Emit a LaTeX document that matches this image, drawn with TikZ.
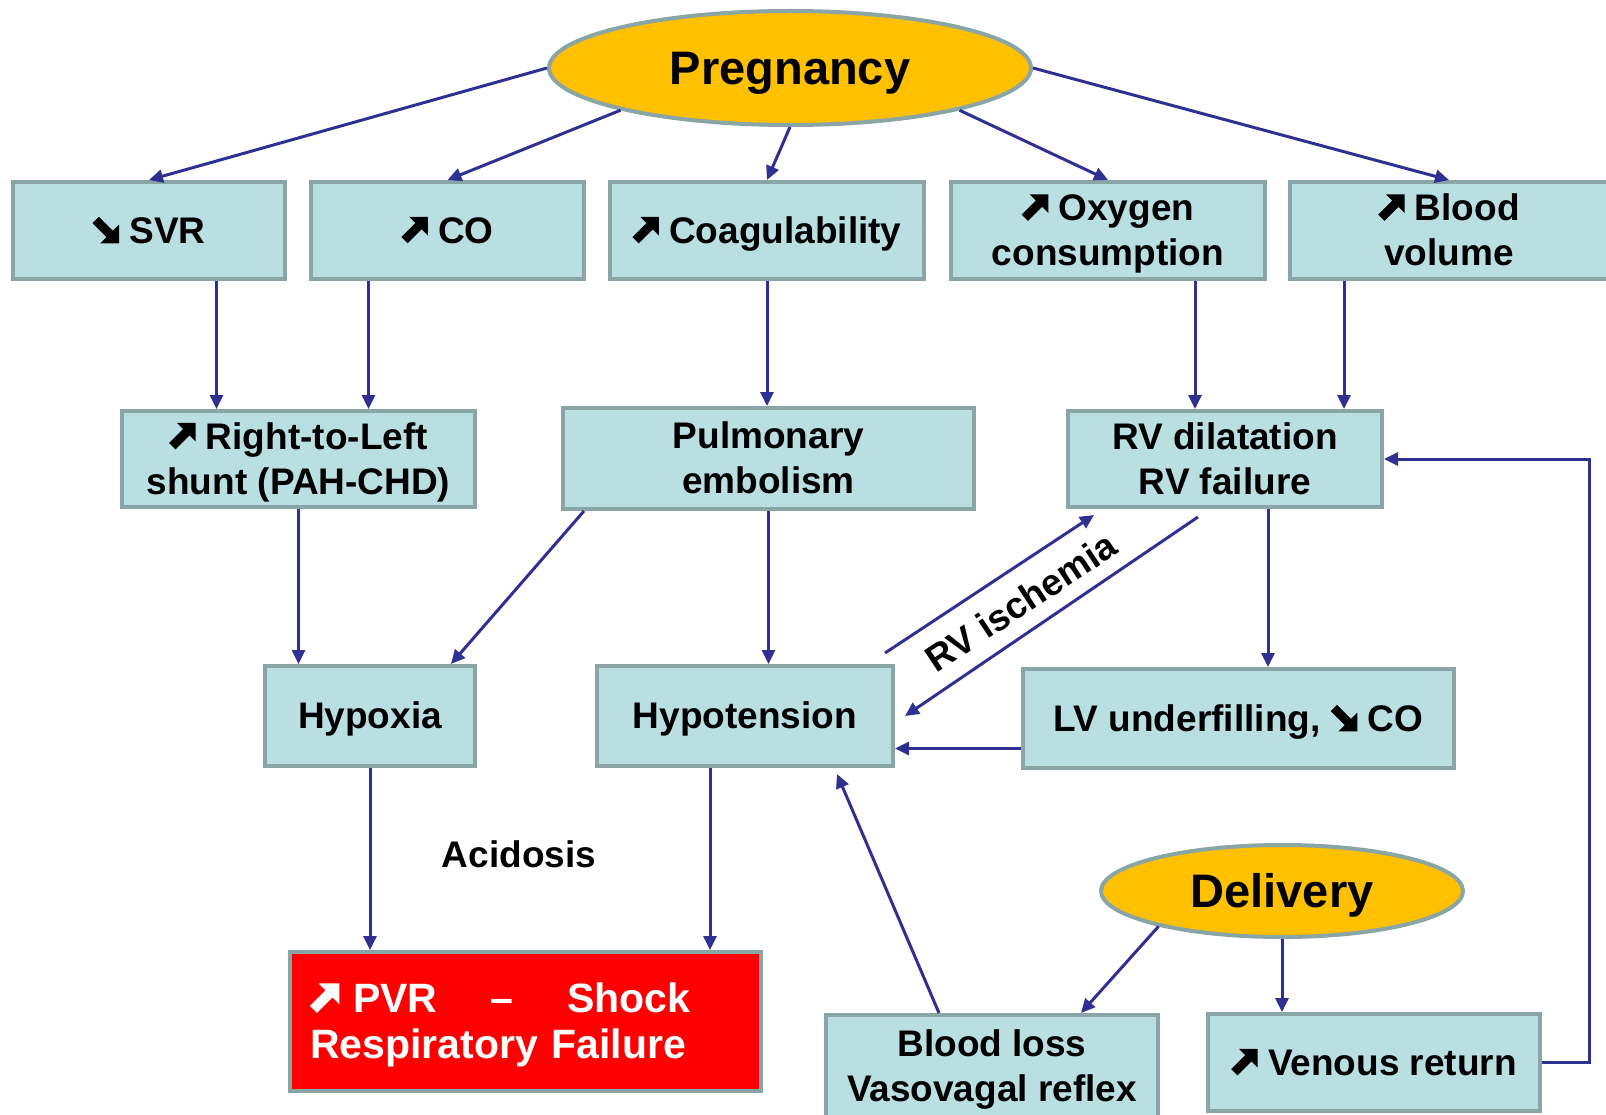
\documentclass[tikz,border=0pt]{standalone}
\usepackage{fontspec}
\setmainfont{Liberation Sans}
\usetikzlibrary{arrows.meta, shapes.geometric, positioning}
\definecolor{boxfill}{RGB}{185,223,227}
\definecolor{boxline}{RGB}{138,165,166}
\definecolor{navyline}{RGB}{46,49,146}
\definecolor{gold}{RGB}{255,192,0}
% heavy arrows drawn as glyphs, cap height tall
\newcommand{\uparr}{\tikz[x=0.0265em,y=0.0265em,baseline=0pt]
	\fill[fill=.] (0,6.4) -- (14.3,20.7) -- (8,27) -- (27,27) -- (27,8) -- (20.7,14.3) -- (6.4,0) -- cycle;}
\newcommand{\dnarr}{\tikz[x=0.0265em,y=0.0265em,baseline=0pt]
	\fill[fill=.] (0,20.6) -- (14.3,6.3) -- (8,0) -- (27,0) -- (27,19) -- (20.7,12.7) -- (6.4,27) -- cycle;}
\newcommand{\linestrut}{\rule[-0.212em]{0pt}{1.117em}}

\begin{document}
\begin{tikzpicture}[x=1pt,y=-1pt,
	box/.style={draw=boxline, line width=4pt, fill=boxfill, inner sep=0pt, align=center,
		font=\fontsize{37}{45}\selectfont\bfseries, execute at begin node=\linestrut},
	oval/.style={ellipse, draw=boxline, line width=4pt, fill=gold, inner sep=0pt,
		font=\fontsize{47}{56}\selectfont\bfseries, execute at begin node=\linestrut},
	arr/.style={draw=navyline, line width=3pt, -{Triangle[length=14pt,width=13pt]}}]
	\useasboundingbox (0,0) rectangle (1606,1115);
	% top
	\node[oval, minimum width=482pt, minimum height=114pt] (preg) at (790,68) {Pregnancy};
	% first row
	\node[box, minimum width=272pt, minimum height=97pt] (svr) at (149,230.5) {\dnarr{} SVR};
	\node[box, minimum width=273pt, minimum height=97pt] (co) at (447.5,230.5) {\uparr{} CO};
	\node[box, minimum width=314pt, minimum height=97pt] (coag) at (767,230.5) {\uparr{} Coagulability};
	\node[box, minimum width=314pt, minimum height=97pt] (oxy) at (1108,230.5) {\linestrut\uparr{} Oxygen\\consumption};
	\node[box, minimum width=318pt, minimum height=97pt] (blood) at (1449,230.5) {\linestrut\uparr{} Blood\\volume};
	% second row
	\node[box, minimum width=353pt, minimum height=96pt] (rtl) at (298.5,459) {\linestrut\uparr{} Right-to-Left\\shunt (PAH-CHD)};
	\node[box, minimum width=411pt, minimum height=101pt] (pe) at (768.5,458.5) {\linestrut Pulmonary\\embolism};
	\node[box, minimum width=314pt, minimum height=96pt] (rv) at (1225,459) {\linestrut RV dilatation\\RV failure};
	% third row
	\node[box, minimum width=210pt, minimum height=100pt] (hyp) at (370,716) {Hypoxia};
	\node[box, minimum width=296pt, minimum height=100pt] (hypo) at (745,716) {Hypotension};
	\node[box, minimum width=431pt, minimum height=99pt] (lv) at (1238.5,718.5) {LV underfilling, \dnarr{} CO};
	\node[font=\fontsize{37}{45}\selectfont\bfseries] (acid) at (519,854) {Acidosis};
	% outcome
	\node[box, fill=red, text=white, align=left, text width=431pt, minimum width=471pt, minimum height=139pt,
		font=\fontsize{41}{46}\selectfont\bfseries] (red) at (525.5,1021.5)
		{\uparr{} PVR\hspace{40pt} – \hspace{40pt}Shock\\Respiratory Failure};
	% delivery
	\node[oval, minimum width=362pt, minimum height=92pt] (del) at (1282,891) {Delivery};
	\node[box, minimum width=332pt, minimum height=103pt] (bl) at (992,1066.5) {\linestrut Blood loss\\Vasovagal reflex};
	\node[box, minimum width=332pt, minimum height=97pt] (ven) at (1374,1062.5) {\uparr{} Venous return};

	% pregnancy to first row
	\draw[arr] (preg.west) -- (svr.north);
	\draw[arr] (preg.194) -- (co.north);
	\draw[arr] (preg.south) -- (coag.north);
	\draw[arr] (preg.346) -- (oxy.north);
	\draw[arr] (preg.east) -- (blood.north);
	% first row to second row
	\draw[arr] ([xshift=-82pt]rtl.north |- svr.south) -- ([xshift=-82pt]rtl.north);
	\draw[arr] ([xshift=70pt]rtl.north |- co.south) -- ([xshift=70pt]rtl.north);
	\draw[arr] (coag.south) -- (coag.south |- pe.north);
	\draw[arr] ([xshift=-30pt]rv.north |- oxy.south) -- ([xshift=-30pt]rv.north);
	\draw[arr] ([xshift=119pt]rv.north |- blood.south) -- ([xshift=119pt]rv.north);
	% second row to third row
	\draw[arr] (rtl.south) -- (rtl.south |- hyp.north);
	\draw[arr] ([xshift=23pt]pe.south west) -- ([xshift=-26pt]hyp.north east);
	\draw[arr] (pe.south) -- (pe.south |- hypo.north);
	\draw[arr] ([xshift=43pt]rv.south) -- ([xshift=43pt]rv.south |- lv.north);
	% RV ischemia loop
	\draw[arr] ([xshift=-10pt,yshift=11pt]hypo.north east) -- ([xshift=28pt,yshift=-6pt]rv.south west);
	\draw[arr] ([xshift=-27pt,yshift=-8pt]rv.south) -- ([xshift=10pt]hypo.east);
	\node[rotate=33.5, font=\fontsize{37}{45}\selectfont\bfseries] (isch) at (1021,602) {RV ischemia};
	\draw[arr] ([yshift=-30pt]lv.west) -- ([yshift=-30pt]lv.west -| hypo.east);
	% third row to outcome
	\draw[arr] (hyp.south) -- (hyp.south |- red.north);
	\draw[arr] ([xshift=-35pt]hypo.south) -- ([xshift=-35pt]hypo.south |- red.north);
	% delivery
	\draw[arr] (del.196) -- ([xshift=89pt]bl.north);
	\draw[arr] (del.south) -- (del.south |- ven.north);
	\draw[arr] ([xshift=-53pt]bl.north) -- ([xshift=92pt,yshift=-6pt]hypo.south);
	\draw[arr] (ven.east) -- ++(47,0) |- (rv.east);
\end{tikzpicture}
\end{document}
